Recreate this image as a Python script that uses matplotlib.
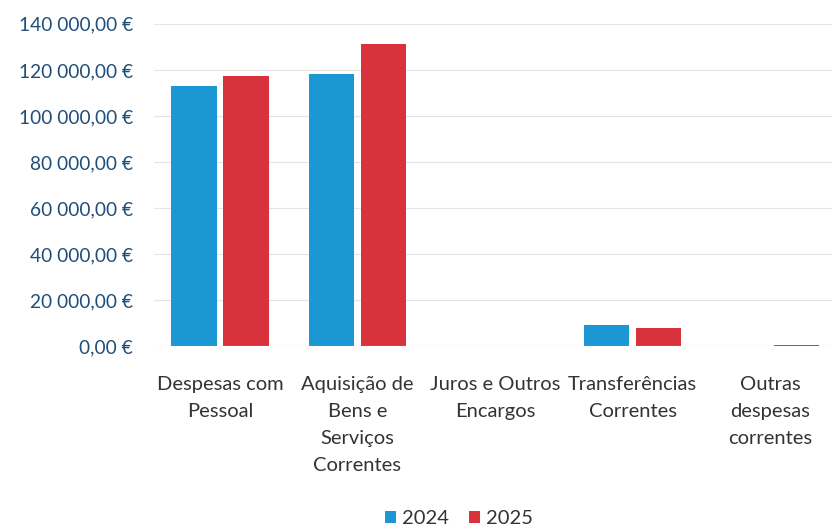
import numpy as np
import matplotlib.pyplot as plt
from matplotlib.ticker import FuncFormatter

plt.rcParams['font.family'] = ['Lato', 'DejaVu Sans']

# Categorias e valores (euros)
categorias = ['Despesas com\nPessoal', 'Aquisição de\nBens e\nServiços\nCorrentes',
              'Juros e Outros\nEncargos', 'Transferências\nCorrentes',
              'Outras\ndespesas\ncorrentes']
valores_2024 = [113000, 118300, 0, 9500, 0]
valores_2025 = [117500, 131300, 0, 8000, 800]

cor_2024 = '#1b98d3'
cor_2025 = '#d8333d'

fig, ax = plt.subplots(figsize=(8.32, 5.29), dpi=100)
fig.subplots_adjust(left=0.185, right=1.0, top=0.955, bottom=0.345)

x = np.arange(len(categorias))
largura = 0.33
ax.bar(x - largura / 2 - 0.025, valores_2024, largura, color=cor_2024, label='2024')
ax.bar(x + largura / 2 + 0.025, valores_2025, largura, color=cor_2025, label='2025')

ax.set_ylim(0, 140000)
ax.set_yticks(range(0, 140001, 20000))
ax.yaxis.set_major_formatter(FuncFormatter(lambda v, p: f'{v:,.2f} €'.replace(',', ' ').replace('.', ',')))
ax.set_xlim(-0.48, 4.45)
ax.set_xticks(x)
ax.set_xticklabels(categorias, fontsize=14.5, color='#333333', linespacing=1.72)

ax.tick_params(axis='y', labelsize=13.8, labelcolor='#1f4e79', length=0, pad=15)
ax.tick_params(axis='x', length=0, pad=21)
ax.grid(axis='y', color='#e4e4e4', linewidth=0.8)
ax.set_axisbelow(True)
for s in ax.spines.values():
    s.set_visible(False)
ax.axhline(0, color='#d9d9d9', linewidth=0.8)

fig.legend(loc='lower center', bbox_to_anchor=(0.552, -0.03), ncol=2, frameon=False,
           fontsize=14.5, handlelength=0.55, handleheight=0.55, handletextpad=0.3,
           columnspacing=1.0, labelcolor='#333333')

plt.savefig('out.png')
